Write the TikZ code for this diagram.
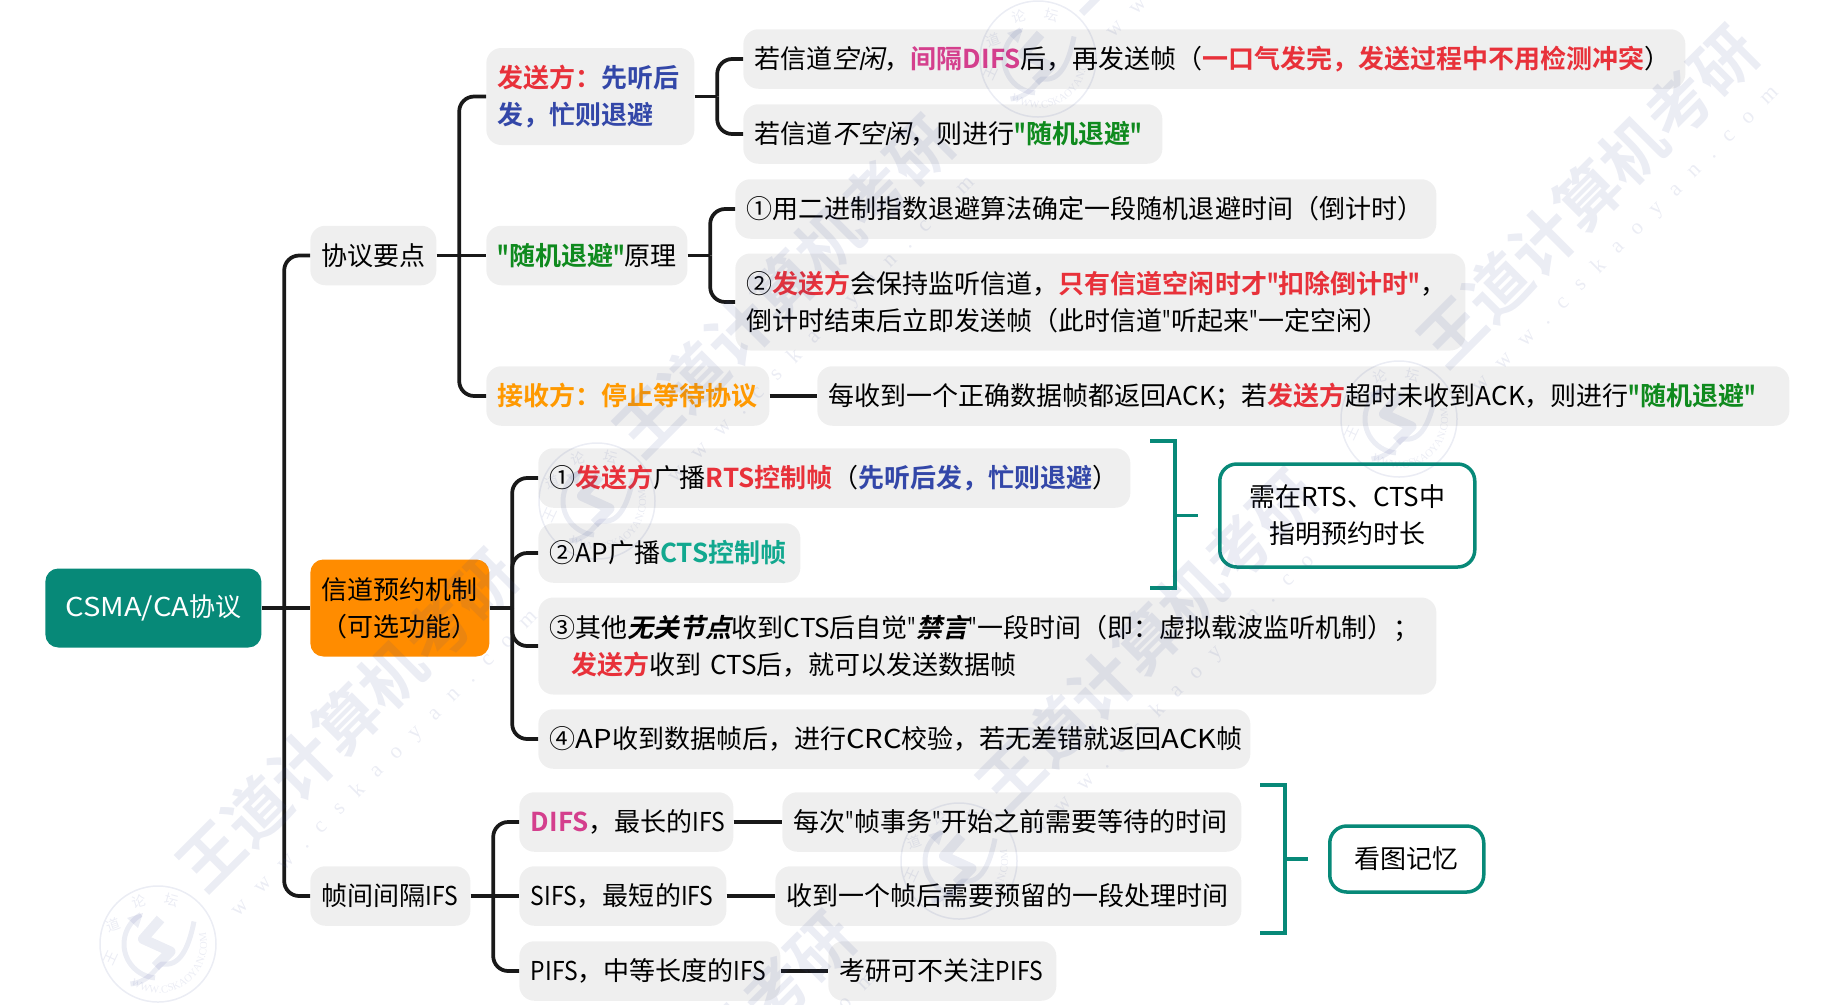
\documentclass[tikz,border=0pt]{standalone}
\usepackage{fontspec}
\setmainfont{Noto Sans CJK SC}[BoldFont={Noto Sans CJK SC Bold},Ligatures=TeXOff]
\newfontfamily\slfont{Noto Sans CJK SC}[FakeSlant=0.22,Ligatures=TeXOff]
\newfontfamily\bslfont{Noto Sans CJK SC Bold}[FakeSlant=0.22,Ligatures=TeXOff]
\newfontfamily\narfont{Noto Sans CJK SC}[FakeStretch=0.88]
\newfontfamily\widefont{Noto Sans CJK SC}[FakeStretch=1.12]
\newfontfamily\quofont{Noto Sans CJK SC}[FakeStretch=0.7,Ligatures=TeXOff]
\newfontfamily\wmfont{Liberation Serif}
\usetikzlibrary{positioning,calc,decorations.text}
\definecolor{csteal}{RGB}{7,137,120}
\definecolor{csorange}{RGB}{255,140,0}
\definecolor{csgray}{RGB}{239,239,239}
\definecolor{csred}{RGB}{232,49,58}
\definecolor{csblue}{RGB}{51,71,168}
\definecolor{csgreen}{RGB}{15,138,30}
\definecolor{csamber}{RGB}{255,153,0}
\definecolor{cspink}{RGB}{212,63,141}
\definecolor{cscts}{RGB}{18,168,143}
\definecolor{wmcol}{RGB}{60,75,150}
\newcommand{\tred}[1]{\textcolor{csred}{\bfseries #1}}
\newcommand{\tblu}[1]{\textcolor{csblue}{\bfseries #1}}
\newcommand{\tgrn}[1]{\textcolor{csgreen}{\bfseries #1}}
\newcommand{\tamb}[1]{\textcolor{csamber}{\bfseries #1}}
\newcommand{\tpnk}[1]{\textcolor{cspink}{\bfseries #1}}
\newcommand{\tcts}[1]{\textcolor{cscts}{\bfseries #1}}
\newcommand{\ital}[1]{{\slfont #1}}
\newcommand{\bital}[1]{{\bslfont #1}}
\newcommand{\lat}[1]{{\narfont #1}}
\newcommand{\latw}[1]{{\widefont #1}}
\newcommand{\qu}{{\quofont"}}
\tikzset{
  leaf/.style={fill=csgray, rounded corners=.3cm, anchor=west, align=left,
               inner xsep=.23cm, inner ysep=0pt, minimum height=1.19cm,
               font=\fontsize{14.8}{21}\selectfont},
  tall/.style={leaf, minimum height=1.94cm},
  rootn/.style={fill=csteal, text=white, rounded corners=.26cm, anchor=west, align=center,
                inner sep=0pt, minimum height=1.58cm, font=\fontsize{14.8}{21}\selectfont},
  resvn/.style={rootn, fill=csorange, text=black, minimum height=1.94cm},
  memo/.style={draw=csteal, line width=.07cm, fill=white, rounded corners=.34cm, anchor=west,
               align=center, inner sep=0pt, font=\fontsize{14.8}{21}\selectfont},
  lnk/.style={draw=black!90, line width=.075cm, rounded corners=.3cm},
  brk/.style={draw=csteal, line width=.065cm},
  wmtxt/.style={font=\fontsize{36.4}{36}\bfseries\selectfont, text=wmcol, inner sep=0pt},
  wmurl/.style={font=\fontsize{12.5}{14}\wmfont\addfontfeature{LetterSpace=75}, text=wmcol, inner sep=0pt},
  wmsmall/.style={font=\fontsize{8}{8}\selectfont, text=wmcol, inner sep=0pt},
}
\begin{document}
\begin{tikzpicture}
  \useasboundingbox (0,.02) rectangle (36.46,-20.06);
  % left part of the tree
  \node[rootn, minimum width=4.32cm] (root) at (.9,-12.14) {\latw{CSMA/CA}协议};
  \node[leaf, text width=2.06cm] (proto) at (6.2,-5.09) {协议要点};
  \node[resvn, minimum width=3.58cm] (resv) at (6.2,-12.14) {信道预约机制\\（可选功能）};
  \node[leaf, text width=2.74cm] (ifs) at (6.2,-17.9) {帧间间隔\lat{IFS}};
  % protocol points
  \node[tall, text width=3.7cm] (sender) at (9.72,-1.91) {\tred{发送方：}\tblu{先听后}\\\tblu{发，忙则退避}};
  \node[leaf, text width=3.56cm] (backoff) at (9.72,-5.09) {\tgrn{\qu 随机退避\qu}原理};
  \node[leaf, text width=5.2cm] (recv) at (9.72,-7.9) {\tamb{接收方：停止等待协议}};
  \node[leaf, text width=18.38cm] (idle) at (14.86,-1.16)
    {若信道\ital{空闲}，\tpnk{间隔DIFS}后，再发送帧（\tred{一口气发完，发送过程中不用检测冲突}）};
  \node[leaf, text width=7.92cm] (busy) at (14.86,-2.66)
    {若信道\ital{不空闲}，则进行\tgrn{\qu 随机退避\qu}};
  \node[leaf, text width=13.56cm] (algo) at (14.7,-4.16)
    {①用二进制指数退避算法确定一段随机退避时间（倒计时）};
  \node[tall, text width=14.14cm] (count) at (14.7,-6.02)
    {②\tred{发送方}会保持监听信道，\tred{只有信道空闲时才\qu 扣除倒计时\qu}，\\
     倒计时结束后立即发送帧（此时信道\qu 听起来\qu 一定空闲）};
  \node[leaf, text width=18.98cm] (ackn) at (16.34,-7.9)
    {每收到一个正确数据帧都返回ACK；若\tred{发送方}超时未收到ACK，则进行\tgrn{\qu 随机退避\qu}};
  % reservation steps
  \node[leaf, text width=11.38cm] (rts) at (10.76,-9.54)
    {①\tred{发送方}广播\tred{RTS控制帧}（\tblu{先听后发，忙则退避}）};
  \node[leaf, text width=4.78cm] (cts) at (10.76,-11.04) {②AP广播\tcts{CTS控制帧}};
  \node[tall, text width=17.5cm] (nav) at (10.76,-12.9)
    {③其他\bital{无关节点}收到CTS后自觉\qu\bital{禁言}\qu 一段时间（即：虚拟载波监听机制）；\\
     \hspace{.44cm}\tred{发送方}收到 CTS后，就可以发送数据帧};
  \node[leaf, text width=13.78cm] (crc) at (10.76,-14.76)
    {④\latw{AP}收到数据帧后，进行\latw{CRC}校验，若无差错就返回\latw{ACK}帧};
  % interframe spaces
  \node[leaf, text width=3.82cm] (difs) at (10.38,-16.42) {\tpnk{DIFS}，最长的\lat{IFS}};
  \node[leaf, text width=3.68cm] (sifs) at (10.38,-17.9) {\lat{SIFS}，最短的\lat{IFS}};
  \node[leaf, text width=4.76cm] (pifs) at (10.38,-19.4) {\lat{PIFS}，中等长度的\lat{IFS}};
  \node[leaf, text width=8.72cm] (difsd) at (15.64,-16.42) {每次\qu 帧事务\qu 开始之前需要等待的时间};
  \node[leaf, text width=8.86cm] (sifsd) at (15.5,-17.9) {收到一个帧后需要预留的一段处理时间};
  \node[leaf, text width=4.1cm] (pifsd) at (16.56,-19.4) {考研可不关注\lat{PIFS}};
  % remarks
  \node[memo, minimum width=5.1cm, minimum height=2.06cm] (memoA) at (24.36,-10.29) {需在RTS、CTS中\\指明预约时长};
  \node[memo, minimum width=3.08cm, minimum height=1.32cm] (memoB) at (26.56,-17.16) {看图记忆};
  % connectors
  \coordinate (trA) at ([xshift=.45cm]root.east);
  \coordinate (trB) at ([xshift=.45cm]proto.east);
  \coordinate (trC) at ([xshift=.45cm]sender.east);
  \coordinate (trD) at ([xshift=.45cm]backoff.east);
  \coordinate (trE) at ([xshift=.45cm]resv.east);
  \coordinate (trF) at ([xshift=.45cm]ifs.east);
  \draw[lnk] (root.east) -- (resv.west);
  \draw[lnk] (proto.east) -- (backoff.west);
  \draw[lnk] (sender.east) -- (trC);
  \draw[lnk] (backoff.east) -- (trD);
  \draw[lnk] (resv.east) -- (trE);
  \draw[lnk] (ifs.east) -- (sifs.west);
  \foreach \k in {proto,ifs} \draw[lnk] (trA) |- (\k.west);
  \foreach \k in {sender,recv} \draw[lnk] (trB) |- (\k.west);
  \foreach \k in {idle,busy} \draw[lnk] (trC) |- (\k.west);
  \foreach \k in {algo,count} \draw[lnk] (trD) |- (\k.west);
  \foreach \k in {rts,cts,nav,crc} \draw[lnk] (trE) |- (\k.west);
  \foreach \k in {difs,pifs} \draw[lnk] (trF) |- (\k.west);
  \draw[lnk] (recv.east) -- (ackn.west);
  \draw[lnk] (difs.east) -- (difsd.west);
  \draw[lnk] (sifs.east) -- (sifsd.west);
  \draw[lnk] (pifs.east) -- (pifsd.west);
  % brackets
  \coordinate (bktA) at (23.5,-10.29);
  \coordinate (bktB) at (25.7,-17.16);
  \draw[brk] (23,-8.8) -| (23.5,-11.74) -- (23,-11.74);
  \draw[brk] (bktA) -- ([xshift=-.4cm]memoA.west);
  \draw[brk] (25.2,-15.68) -| (25.7,-18.64) -- (25.2,-18.64);
  \draw[brk] (bktB) -- ([xshift=-.4cm]memoB.west);
  % watermark
  \begin{scope}[opacity=.1]
    \clip (0,.02) rectangle (36.46,-20.06);
    \foreach \wx/\wy/\wi in {6.94/-14.38/a,15.68/-5.7/b,22.94/-12.78/c,31.76/-3.9/d,13.7/-21.62/e,24.44/3.2/f}{
      \node[wmtxt, rotate=45] (wm\wi) at (\wx,\wy) {王道计算机考研};
      \node[wmurl, rotate=45] (wu\wi) at (\wx+.76,\wy-.88) {www.cskaoyan.com};
    }
    \foreach \sx/\sy/\si in {3.16/-18.86/a,20.76/-1.16/b,11.94/-10.0/c,27.98/-8.36/d,19.18/-17.2/e}{
      \begin{scope}[shift={(\sx,\sy)}]
        \draw[wmcol, line width=.03cm] (0,0) circle (1.16);
        \draw[wmcol, line width=.1cm] (120:.68) arc (120:265:.68);
        \draw[wmcol, line width=.2cm, line join=round] (.05,.5) -- (-.3,.1) -- (.25,-.15) -- (-.05,-.45);
        \draw[wmcol, line width=.1cm] (-.55,-.8) .. controls (-.1,-.75) and (0,-.35) .. (.12,-.4)
          .. controls (.5,-.45) and (.65,.1) .. (.72,.45);
        \fill[wmcol] (-.62,.52) -- (-.3,.62) -- (-.4,.32) -- cycle;
        \node[wmsmall, rotate=65] (sa\si) at (-.94,-.28) {王};
        \node[wmsmall, rotate=20] (sb\si) at (-.9,.38) {道};
        \node[wmsmall, rotate=15] (sc\si) at (-.38,.86) {论};
        \node[wmsmall, rotate=-15] (sd\si) at (.28,.88) {坛};
        \path[decorate, decoration={text along path, text align=center,
            text={|\fontsize{6}{6}\wmfont\color{wmcol}|WWW.CSKAOYAN.COM}}]
          (235:.98) arc (235:375:.98);
      \end{scope}
    }
  \end{scope}
\end{tikzpicture}
\end{document}
